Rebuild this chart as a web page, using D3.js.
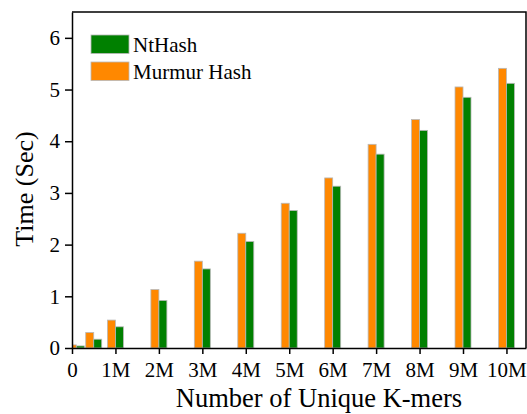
<!DOCTYPE html>
<html>
<head>
<meta charset="utf-8">
<script src="https://cdn.jsdelivr.net/npm/d3@7"></script>
<style>
  html, body { margin: 0; padding: 0; background: #fff; }
  svg { display: block; }
  text { font-family: "Liberation Serif", "Times New Roman", serif; fill: #000; }
</style>
</head>
<body>
<svg id="chart" width="527" height="414"></svg>
<script>
// Data (k-mers in millions)
const kmers = [0.1, 0.5, 1, 2, 3, 4, 5, 6, 7, 8, 9, 10];
const murmurHash = [0.06, 0.30, 0.54, 1.13, 1.68, 2.22, 2.80, 3.29, 3.94, 4.42, 5.05, 5.41];
const ntHash = [0.04, 0.17, 0.41, 0.92, 1.53, 2.06, 2.66, 3.13, 3.75, 4.21, 4.85, 5.12];
const xTickValues = [0, 1, 2, 3, 4, 5, 6, 7, 8, 9, 10];
const xTickLabels = ["0", "1M", "2M", "3M", "4M", "5M", "6M", "7M", "8M", "9M", "10M"];
const yTickValues = [0, 1, 2, 3, 4, 5, 6];
const seriesNames = ["NtHash", "Murmur Hash"];
const seriesColors = ["#008000", "#ff8800"];

const svg = d3.select("#chart");
const mLeft = 72, mRight = 526, mTop = 12, mBottom = 348;
const x = d3.scaleLinear().domain([0, 10.45]).range([mLeft, mRight]);
const y = d3.scaleLinear().domain([0, 6.5]).range([mBottom, mTop]);
const barW = 8;

svg.append("defs").append("clipPath").attr("id", "clip")
  .append("rect").attr("x", mLeft).attr("y", mTop).attr("width", mRight - mLeft).attr("height", mBottom - mTop);

const bars = svg.append("g").attr("clip-path", "url(#clip)");
bars.selectAll("rect.m").data(kmers).enter().append("rect")
  .attr("class", "m")
  .attr("x", d => x(d) - barW)
  .attr("y", (d, i) => y(murmurHash[i]))
  .attr("width", barW)
  .attr("height", (d, i) => y(0) - y(murmurHash[i]))
  .attr("fill", seriesColors[1])
  .attr("stroke", "#b8b8b8").attr("stroke-width", 0.8);
bars.selectAll("rect.n").data(kmers).enter().append("rect")
  .attr("class", "n")
  .attr("x", d => x(d))
  .attr("y", (d, i) => y(ntHash[i]))
  .attr("width", barW)
  .attr("height", (d, i) => y(0) - y(ntHash[i]))
  .attr("fill", seriesColors[0])
  .attr("stroke", "#b8b8b8").attr("stroke-width", 0.8);

// Frame
svg.append("path")
  .attr("d", `M${mLeft},${mTop}H${mRight}V${mBottom}`)
  .attr("fill", "none").attr("stroke", "#000").attr("stroke-width", 1.5);

// Axes
const xAxis = svg.append("g").attr("transform", `translate(0,${mBottom})`)
  .call(d3.axisBottom(x).tickValues(xTickValues).tickFormat((d, i) => xTickLabels[i]).tickSize(6).tickSizeOuter(0).tickPadding(8));
const yAxis = svg.append("g").attr("transform", `translate(${mLeft},0)`)
  .call(d3.axisLeft(y).tickValues(yTickValues).tickFormat(d3.format("d")).tickSize(7).tickSizeOuter(0).tickPadding(5));
[xAxis, yAxis].forEach(a => {
  a.select(".domain").attr("stroke", "#000").attr("stroke-width", 1.5);
  a.selectAll(".tick line").attr("stroke", "#000").attr("stroke-width", 1.5);
  a.selectAll(".tick text").style("font-family", '"Liberation Serif", "Times New Roman", serif').style("font-size", "21px").attr("fill", "#000");
});

// Axis titles
svg.append("text").attr("x", 319).attr("y", 407).attr("text-anchor", "middle")
  .style("font-size", "26.5px").text("Number of Unique K-mers");
svg.append("text").attr("transform", "translate(33,189) rotate(-90)").attr("text-anchor", "middle")
  .style("font-size", "26px").text("Time (Sec)");

// Legend
const legend = svg.append("g");
seriesNames.forEach((name, i) => {
  const ly = 35 + i * 27;
  legend.append("rect").attr("x", 91).attr("y", ly).attr("width", 38).attr("height", 18.5)
    .attr("fill", seriesColors[i]).attr("stroke", "#b8b8b8").attr("stroke-width", 0.8);
  legend.append("text").attr("x", 133).attr("y", ly + 16.5)
    .style("font-size", "21px").text(name);
});
</script>
</body>
</html>
